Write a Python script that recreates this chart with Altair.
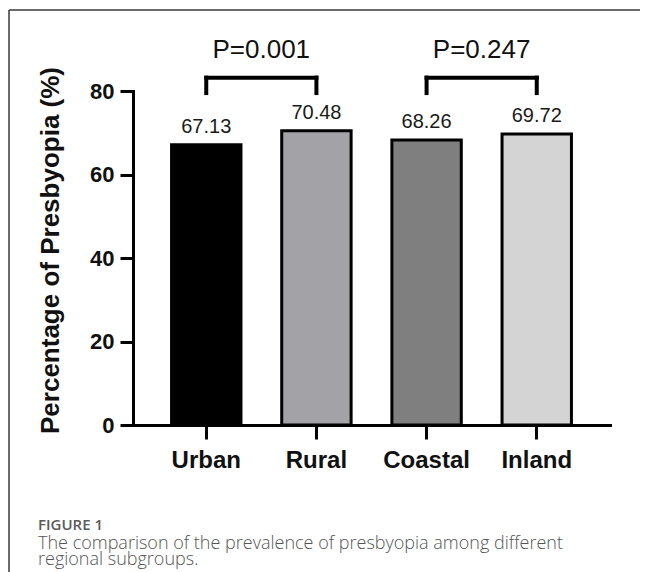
import altair as alt
import pandas as pd

# ---- data ----
categories = ["Urban", "Rural", "Coastal", "Inland"]
values = [67.13, 70.48, 68.26, 69.72]
value_labels = ["67.13", "70.48", "68.26", "69.72"]
fills = ["#000000", "#a3a3a7", "#7f7f7f", "#d4d4d4"]

pair_left = ["Urban", "Coastal"]
pair_right = ["Rural", "Inland"]
p_labels = ["P=0.001", "P=0.247"]
bracket_top = [83.2, 83.2]
bracket_bottom = [79.5, 79.5]

y_ticks = [0, 20, 40, 60, 80]
y_title = "Percentage of Presbyopia (%)"
caption_head = "FIGURE 1"
caption_lines = ["The comparison of the prevalence of presbyopia among different",
                 "regional subgroups."]

FONT = "Liberation Sans"

bars_df = pd.DataFrame({"cat": categories, "val": values, "label": value_labels, "fill": fills})
br_df = pd.DataFrame({"cat": pair_left, "right": pair_right, "val": bracket_top,
                      "bottom": bracket_bottom, "p": p_labels})
legs_df = pd.DataFrame({"cat": pair_left + pair_right,
                        "val": bracket_top + bracket_top,
                        "bottom": bracket_bottom + bracket_bottom})

xscale = alt.Scale(domain=categories, paddingInner=0.37, paddingOuter=0.35)
yscale = alt.Scale(domain=[0, 80], nice=False, zero=True)

x_axis = alt.Axis(title=None, labelAngle=0, labelFont=FONT, labelFontSize=24,
                  labelFontWeight="bold", labelColor="#111111", tickSize=14, tickWidth=3,
                  tickColor="#000000", domainWidth=3, domainColor="#000000",
                  domainCap="square", labelPadding=9, grid=False)
y_axis = alt.Axis(values=y_ticks, title=y_title, titleFont=FONT, titleFontSize=26,
                  titleFontWeight="bold", titleColor="#111111", titleAngle=270,
                  titleX=-75, titleY=159, titleAlign="center", titleBaseline="alphabetic",
                  labelFont=FONT, labelFontSize=22, labelFontWeight="bold",
                  labelColor="#111111", labelPadding=6, tickSize=13, tickWidth=3,
                  tickColor="#000000", domainWidth=3, domainColor="#000000",
                  domainCap="square", grid=False)

X = alt.X("cat:N", scale=xscale, axis=x_axis, sort=categories, title=None)
Y = alt.Y("val:Q", scale=yscale, axis=y_axis, title=y_title)

bars = alt.Chart(bars_df).mark_bar(stroke="#000000", strokeWidth=3).encode(
    x=X, y=Y, color=alt.Color("fill:N", scale=None),
)

value_text = alt.Chart(bars_df).mark_text(
    font=FONT, fontSize=20, color="#1a1a1a", baseline="alphabetic", dy=-12
).encode(x=X, y=Y, text="label:N")

bracket_h = alt.Chart(br_df).mark_rule(strokeWidth=4, color="#000000", strokeCap="square").encode(
    x=X, x2="right:N", y=Y,
)

bracket_v = alt.Chart(legs_df).mark_rule(strokeWidth=4, color="#000000", strokeCap="square").encode(
    x=X, y=Y, y2="bottom:Q",
)

p_text = alt.Chart(br_df).mark_text(
    font=FONT, fontSize=26, color="#111111", baseline="alphabetic", dx=55, dy=-19.5
).encode(x=X, y=Y, text="p:N")

one = pd.DataFrame({"k": [0]})

# frame around the figure (top and left edges; the others fall outside the picture)
frame_top = alt.Chart(one).mark_rule(color="#3a3a3a", strokeWidth=1.5).encode(
    x=alt.value(-124), x2=alt.value(700), y=alt.value(-81)
)
frame_left = alt.Chart(one).mark_rule(color="#3a3a3a", strokeWidth=1.5).encode(
    x=alt.value(-124), y=alt.value(-81), y2=alt.value(700)
)

cap_head = alt.Chart(one).mark_text(
    font="Open Sans", fontSize=15, fontWeight=600, color="#5a5a5a",
    align="left", baseline="alphabetic"
).encode(x=alt.value(-95), y=alt.value(439), text=alt.value(caption_head))

cap_body = alt.Chart(one).mark_text(
    font="Open Sans", fontSize=18, fontWeight=300, color="#555555",
    align="left", baseline="alphabetic", lineHeight=16
).encode(x=alt.value(-95), y=alt.value(458), text=alt.value(caption_lines))

chart = alt.layer(
    frame_top, frame_left, bars, value_text, bracket_h, bracket_v, p_text, cap_head, cap_body
).properties(
    width=477, height=334,
    padding={"left": 125, "top": 83, "right": 30, "bottom": 149},
    autosize=alt.AutoSizeParams(type="none"),
).configure_view(strokeOpacity=0, strokeWidth=0)

chart.save("out.html", embed_options={"renderer": "svg", "actions": False})
